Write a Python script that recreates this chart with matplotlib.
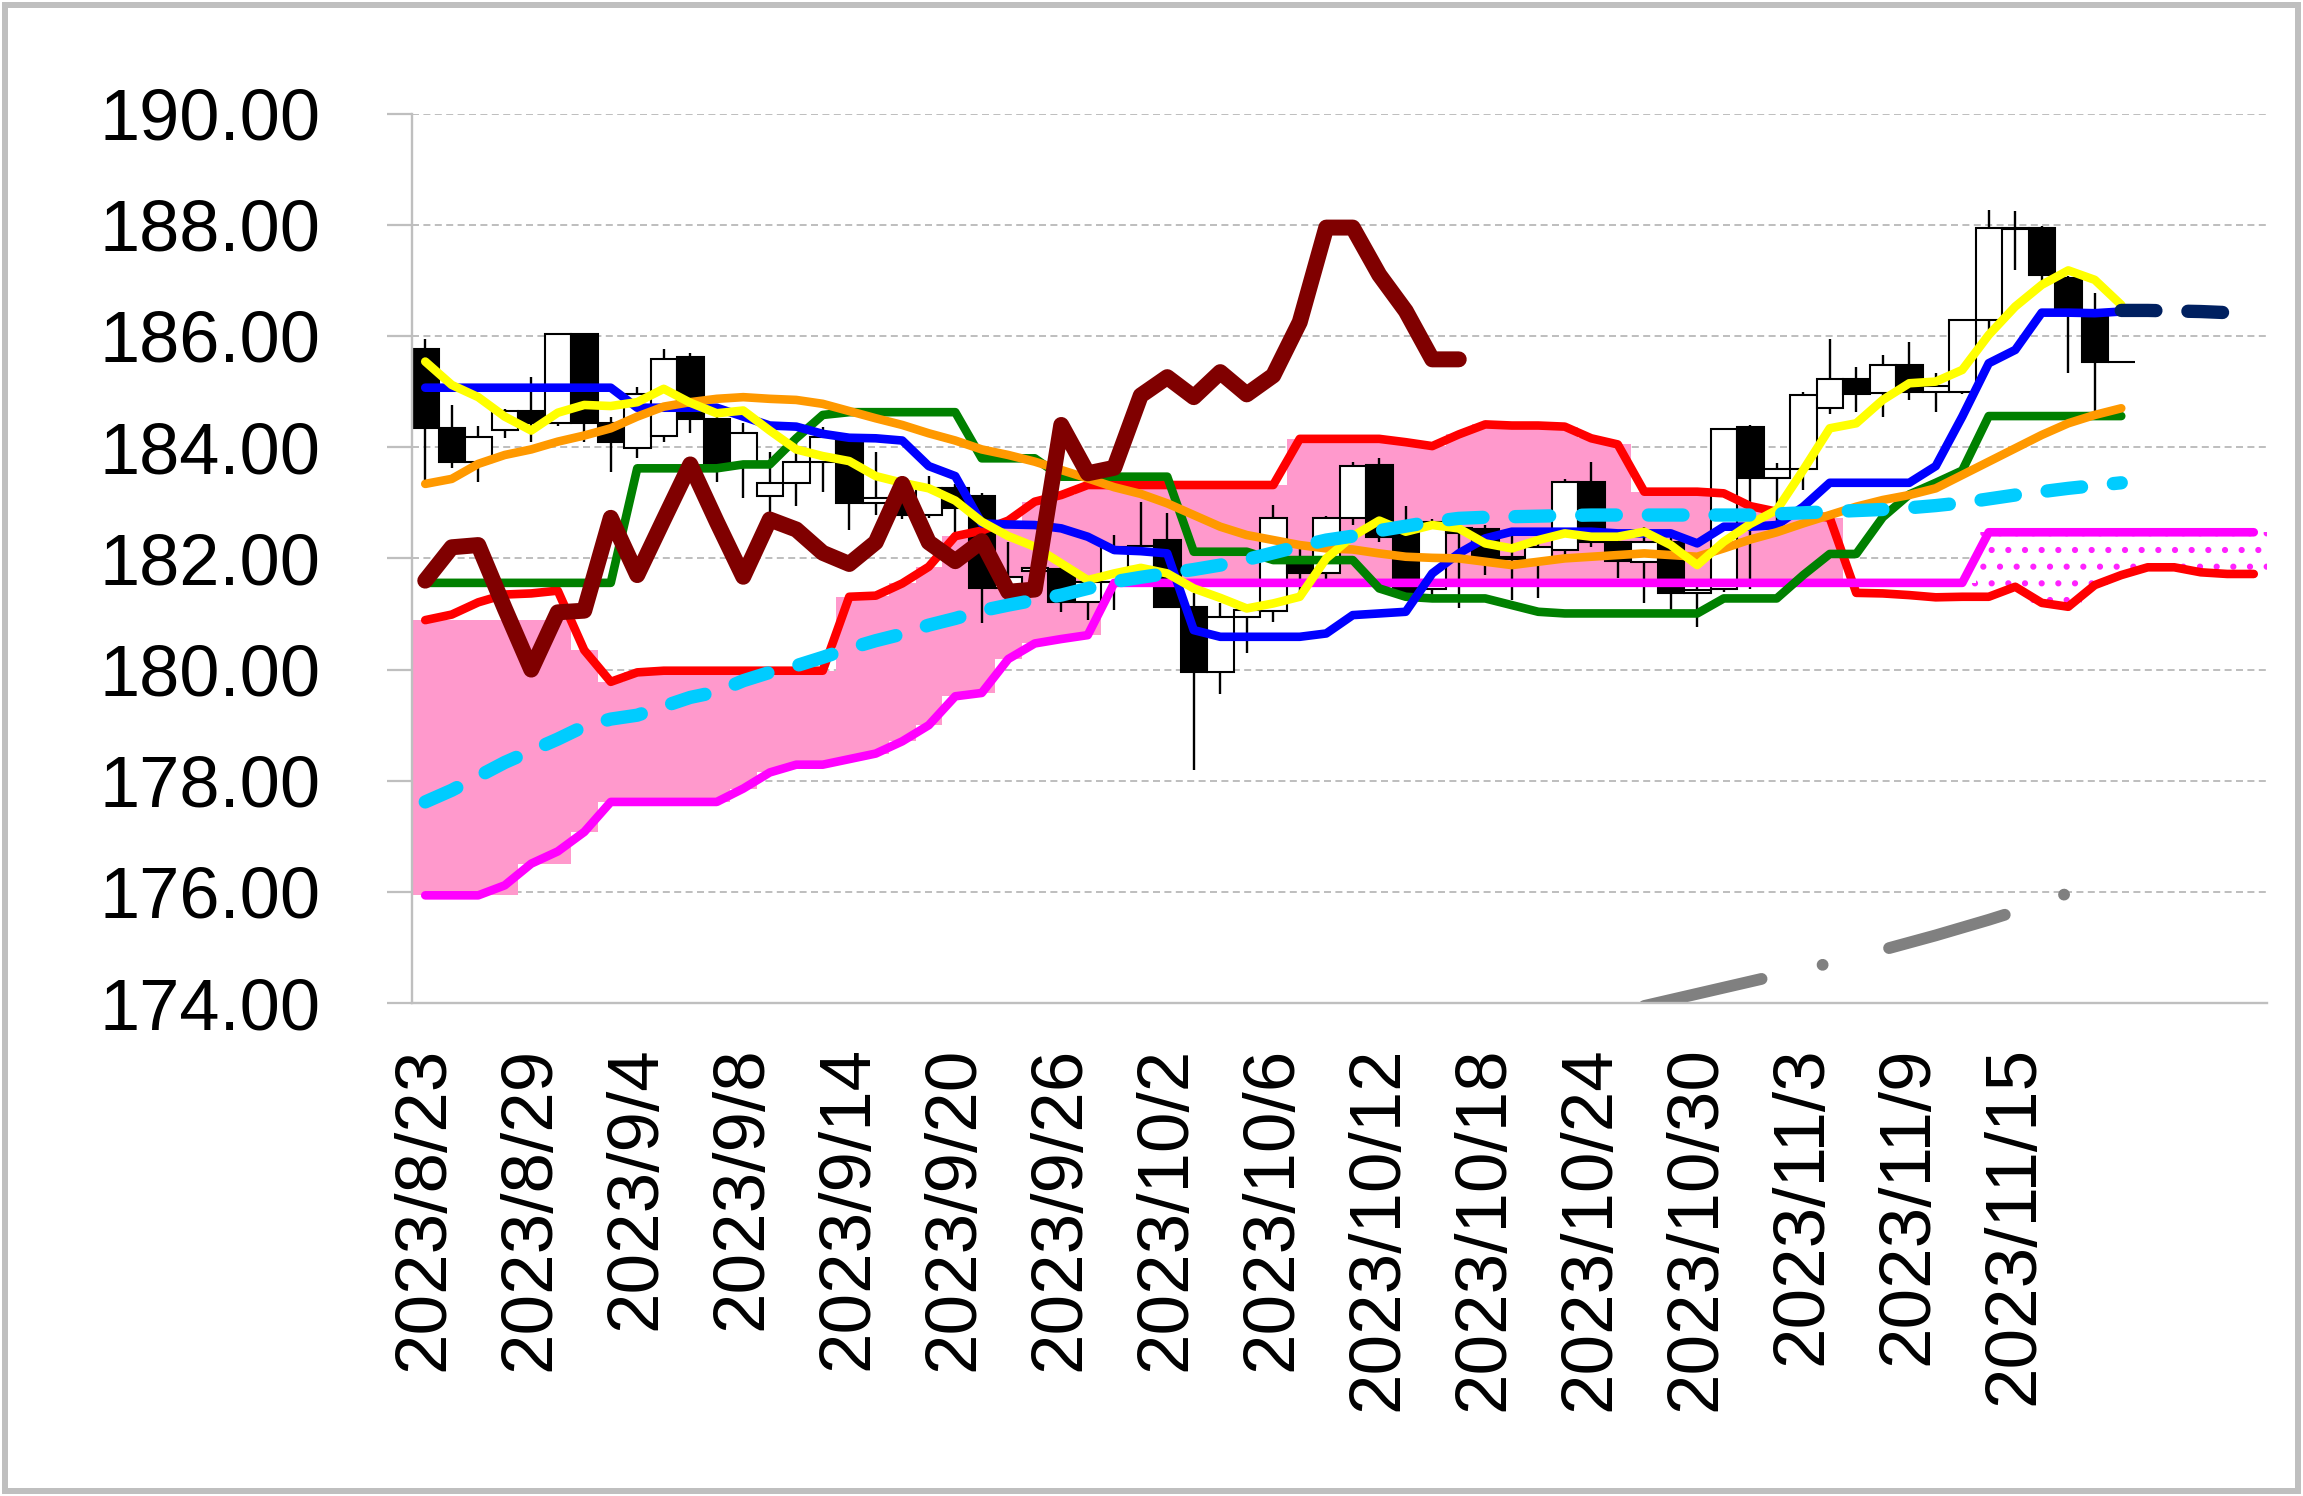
import numpy as np
import matplotlib
matplotlib.use("Agg")
import matplotlib.pyplot as plt
from matplotlib.patches import Rectangle
from matplotlib.ticker import FuncFormatter

plt.rcParams['font.family'] = ['Liberation Sans', 'DejaVu Sans']
plt.rcParams['hatch.linewidth'] = 2.0

N = 70  # categories on the axis (incl. future span)
nan = np.nan

# ---------------- categories ----------------
md = ["8/23", "8/24", "8/25", "8/28", "8/29", "8/30", "8/31", "9/1", "9/4", "9/5",
      "9/6", "9/7", "9/8", "9/11", "9/12", "9/13", "9/14", "9/15", "9/18", "9/19",
      "9/20", "9/21", "9/22", "9/25", "9/26", "9/27", "9/28", "9/29", "10/2", "10/3",
      "10/4", "10/5", "10/6", "10/9", "10/10", "10/11", "10/12", "10/13", "10/16", "10/17",
      "10/18", "10/19", "10/20", "10/23", "10/24", "10/25", "10/26", "10/27", "10/30", "10/31",
      "11/1", "11/2", "11/3", "11/6", "11/7", "11/8", "11/9", "11/10", "11/13", "11/14",
      "11/15", "11/16", "11/17", "11/20"]
categories = ["2023/" + d for d in md] + [""] * (N - len(md))

# ---------------- candles (index 0..64) ----------------
opens = [185.76, 184.34, 183.73, 184.31, 184.66, 184.44, 186.04, 184.44, 183.99, 184.20,
         185.62, 184.50, 183.70, 183.13, 183.36, 183.73, 184.12, 183.00, 183.02, 182.78,
         183.26, 183.12, 181.46, 181.78, 181.81, 181.22, 181.57, 181.85, 182.33, 181.13,
         179.96, 180.95, 181.06, 181.88, 181.73, 182.72, 183.68, 182.45, 181.45, 182.55,
         182.52, 181.99, 181.97, 182.16, 183.38, 182.30, 181.94, 182.30, 181.37, 181.45,
         184.37, 183.44, 183.60, 184.70, 185.23, 184.97, 185.47, 185.00, 185.00, 186.29,
         187.94, 187.95, 187.05, 186.38, 185.54]
highs = [185.94, 184.76, 184.39, 184.69, 185.26, 186.04, 186.06, 184.55, 185.08, 185.76,
         185.69, 184.60, 184.44, 183.91, 184.19, 184.37, 184.19, 183.92, 183.20, 183.48,
         183.33, 183.17, 182.30, 181.90, 181.85, 181.67, 182.42, 183.02, 182.81, 181.37,
         181.19, 181.10, 182.96, 182.30, 182.77, 183.73, 183.80, 182.94, 182.70, 182.55,
         182.60, 182.51, 182.36, 183.42, 183.74, 182.35, 182.57, 182.51, 181.50, 184.35,
         184.40, 183.71, 185.00, 185.94, 185.45, 185.66, 185.89, 185.33, 186.29, 188.27,
         188.24, 187.98, 187.08, 186.77, 185.54]
lows = [183.38, 183.62, 183.38, 184.17, 184.09, 184.39, 184.09, 183.55, 183.80, 184.09,
        184.26, 183.38, 183.09, 182.81, 182.95, 183.20, 182.51, 182.78, 182.70, 182.72,
        182.45, 180.83, 181.25, 181.60, 181.04, 180.89, 181.07, 181.70, 181.10, 178.20,
        179.57, 180.29, 180.85, 181.40, 181.60, 182.60, 182.30, 181.30, 181.34, 181.10,
        181.70, 181.25, 181.28, 182.00, 182.20, 181.64, 181.19, 181.07, 180.77, 181.40,
        181.45, 182.63, 183.23, 184.60, 184.64, 184.55, 184.85, 184.64, 184.96, 186.10,
        187.19, 186.98, 185.33, 184.64, 185.54]
closes = [184.34, 183.73, 184.19, 184.66, 184.44, 186.04, 184.44, 184.09, 184.96, 185.59,
          184.51, 183.70, 184.26, 183.36, 183.73, 184.19, 183.00, 183.08, 182.78, 183.26,
          182.90, 181.46, 181.66, 181.83, 181.21, 181.58, 182.20, 182.23, 181.12, 179.96,
          180.95, 181.07, 182.73, 181.73, 182.72, 183.66, 182.38, 181.37, 182.66, 182.45,
          181.99, 182.03, 182.20, 183.38, 182.30, 181.96, 182.30, 181.37, 181.43, 184.33,
          183.44, 183.60, 184.93, 185.23, 184.96, 185.47, 185.00, 185.10, 186.29, 187.94,
          187.92, 187.10, 186.50, 185.54, 185.54]

# ---------------- indicator lines ----------------
tenkan = [185.07, 185.07, 185.07, 185.07, 185.07, 185.07, 185.07, 185.07, 184.71, 184.71,
          184.71, 184.71, 184.55, 184.39, 184.37, 184.24, 184.17, 184.16, 184.12, 183.66,
          183.48, 182.63, 182.61, 182.60, 182.54, 182.39, 182.15, 182.13, 182.09, 180.71,
          180.59, 180.59, 180.59, 180.59, 180.65, 180.98, 181.01, 181.04, 181.73, 182.09,
          182.36, 182.48, 182.48, 182.48, 182.48, 182.45, 182.45, 182.45, 182.27, 182.57,
          182.57, 182.60, 182.93, 183.36, 183.36, 183.36, 183.36, 183.66, 184.55, 185.51,
          185.75, 186.42, 186.42, 186.41, 186.44]
kijun = [181.56, 181.56, 181.56, 181.56, 181.56, 181.56, 181.56, 181.56, 183.62, 183.62,
         183.62, 183.62, 183.69, 183.69, 184.16, 184.58, 184.63, 184.63, 184.63, 184.63,
         184.63, 183.80, 183.80, 183.80, 183.47, 183.47, 183.47, 183.47, 183.47, 182.12,
         182.12, 182.12, 181.97, 181.97, 181.97, 181.97, 181.46, 181.31, 181.28, 181.28,
         181.28, 181.16, 181.04, 181.01, 181.01, 181.01, 181.01, 181.01, 181.01, 181.28,
         181.28, 181.28, 181.70, 182.08, 182.08, 182.74, 183.15, 183.36, 183.58, 184.56,
         184.56, 184.56, 184.56, 184.56, 184.56]
ma5 = [185.54, 185.12, 184.90, 184.55, 184.30, 184.62, 184.76, 184.74, 184.81, 185.05,
       184.80, 184.61, 184.66, 184.30, 183.96, 183.84, 183.75, 183.48, 183.36, 183.26,
       183.04, 182.66, 182.40, 182.21, 181.91, 181.61, 181.73, 181.83, 181.73, 181.46,
       181.29, 181.10, 181.19, 181.31, 182.00, 182.40, 182.68, 182.48, 182.60, 182.54,
       182.27, 182.18, 182.33, 182.45, 182.39, 182.39, 182.48, 182.24, 181.88, 182.30,
       182.62, 182.87, 183.59, 184.34, 184.43, 184.85, 185.15, 185.18, 185.39, 186.02,
       186.53, 186.92, 187.18, 187.01, 186.56]
ma25 = [183.34, 183.43, 183.70, 183.86, 183.96, 184.10, 184.21, 184.34, 184.55, 184.73,
        184.81, 184.87, 184.90, 184.87, 184.85, 184.78, 184.65, 184.52, 184.40, 184.25,
        184.12, 183.96, 183.86, 183.74, 183.59, 183.44, 183.28, 183.16, 182.99, 182.78,
        182.57, 182.42, 182.33, 182.24, 182.18, 182.16, 182.09, 182.03, 182.01, 182.00,
        181.94, 181.88, 181.94, 182.00, 182.03, 182.06, 182.09, 182.06, 182.03, 182.18,
        182.34, 182.47, 182.63, 182.78, 182.93, 183.05, 183.14, 183.26, 183.50, 183.74,
        183.98, 184.22, 184.43, 184.58, 184.70]
ma75 = [177.62, 177.83, 178.08, 178.33, 178.54, 178.75, 178.98, 179.11, 179.18, 179.34,
        179.50, 179.60, 179.80, 179.95, 180.07, 180.22, 180.38, 180.52, 180.64, 180.80,
        180.92, 181.06, 181.16, 181.25, 181.34, 181.46, 181.58, 181.66, 181.73, 181.80,
        181.88, 181.98, 182.10, 182.22, 182.33, 182.40, 182.50, 182.58, 182.66, 182.72,
        182.74, 182.75, 182.76, 182.77, 182.78, 182.78, 182.78, 182.78, 182.78, 182.78,
        182.78, 182.80, 182.82, 182.84, 182.86, 182.88, 182.91, 182.95, 183.00, 183.07,
        183.14, 183.20, 183.26, 183.31, 183.36]
ma200_start = 46
ma200 = [173.95, 174.06, 174.17, 174.28, 174.39, 174.50, 174.61, 174.72, 174.84, 174.96,
         175.09, 175.22, 175.36, 175.50, 175.65, 175.81, 175.98]
chikou = [181.60, 182.20, 182.24, 181.10, 180.00, 181.03, 181.06, 182.73, 181.70, 182.70,
          183.69, 182.66, 181.67, 182.70, 182.52, 182.10, 181.90, 182.29, 183.34, 182.29,
          181.95, 182.31, 181.40, 181.44, 184.40, 183.53, 183.63, 184.93, 185.26, 184.90,
          185.35, 184.95, 185.29, 186.25, 187.95, 187.95, 187.10, 186.45, 185.58, 185.58]
tenkan_ext_start = 64
tenkan_ext = [186.46, 186.46, 186.45, 186.44, 186.42]
senkou_a = [180.89, 180.99, 181.21, 181.35, 181.37, 181.42, 180.35, 179.78, 179.95, 179.98,
            179.98, 179.98, 179.98, 179.98, 179.98, 179.98, 181.31, 181.33, 181.55, 181.85,
            182.40, 182.50, 182.68, 183.02, 183.14, 183.32, 183.32, 183.32, 183.32, 183.32,
            183.32, 183.32, 183.32, 184.15, 184.15, 184.15, 184.15, 184.09, 184.02, 184.23,
            184.41, 184.39, 184.39, 184.37, 184.16, 184.05, 183.20, 183.20, 183.20, 183.17,
            182.94, 182.84, 182.80, 182.73, 181.38, 181.37, 181.34, 181.30, 181.31, 181.31,
            181.49, 181.20, 181.13, 181.52, 181.70, 181.84, 181.84, 181.75, 181.72, 181.72]
senkou_b = [175.94, 175.94, 175.94, 176.12, 176.51, 176.73, 177.08, 177.62, 177.62, 177.62,
            177.62, 177.62, 177.86, 178.15, 178.29, 178.29, 178.39, 178.49, 178.71, 179.00,
            179.52, 179.58, 180.19, 180.47, 180.55, 180.62, 181.56, 181.56, 181.56, 181.56,
            181.56, 181.56, 181.56, 181.56, 181.56, 181.56, 181.56, 181.56, 181.56, 181.56,
            181.56, 181.56, 181.56, 181.56, 181.56, 181.56, 181.56, 181.56, 181.56, 181.56,
            181.56, 181.56, 181.56, 181.56, 181.56, 181.56, 181.56, 181.56, 181.56, 182.47,
            182.47, 182.47, 182.47, 182.47, 182.47, 182.47, 182.47, 182.47, 182.47, 182.47]
# the shaded cloud lags the span lines over the first few days
cloud_top_head = [180.89, 180.89, 180.89, 180.89, 180.89, 180.89]
cloud_bottom_head = [175.94, 175.94, 175.94, 175.94, 176.51, 176.51]


def pad(values, start=0):
    arr = np.full(N, nan)
    arr[start:start + len(values)] = values
    return arr


# ---------------- figure ----------------
W, H = 2303, 1496
fig = plt.figure(figsize=(W / 100, H / 100), dpi=100)
ax = fig.add_axes([412 / W, 1 - 1003.2 / H, (2267 - 412) / W, (1003.2 - 113.6) / H])

x_all = np.arange(N)

# cloud
sa = np.array(senkou_a, dtype=float)
sb = np.array(senkou_b, dtype=float)
cloud_hi = np.maximum(sa, sb)
cloud_lo = np.minimum(sa, sb)
cloud_hi[:len(cloud_top_head)] = cloud_top_head
cloud_lo[:len(cloud_bottom_head)] = cloud_bottom_head
pink = sa >= sb
ax.bar(x_all[pink], (cloud_hi - cloud_lo)[pink], bottom=cloud_lo[pink], width=1.0,
       color='#FF99CC', linewidth=0, zorder=1)
ax.bar(x_all[~pink], (cloud_hi - cloud_lo)[~pink], bottom=cloud_lo[~pink], width=1.0,
       facecolor='white', edgecolor='#FF22FF', hatch='.', linewidth=0, zorder=1)

# candles
o = np.array(opens); h = np.array(highs); l = np.array(lows); c = np.array(closes)
xc = np.arange(len(o))
ax.vlines(xc, l, h, color='black', linewidth=1.7, zorder=2)
up = c >= o
ax.bar(xc, np.abs(c - o), bottom=np.minimum(o, c), width=1.0,
       color=np.where(up, 'white', 'black'), edgecolor='black', linewidth=1.5, zorder=3)

rk = dict(solid_joinstyle='round', solid_capstyle='round')
LW = 6.2
ax.plot(x_all, pad(senkou_a), color='#FF0000', lw=LW, zorder=4, **rk)
ax.plot(x_all, pad(senkou_b), color='#FF00FF', lw=LW, zorder=4, **rk)
ax.plot(x_all, pad(kijun), color='#008000', lw=LW, zorder=5, **rk)
ax.plot(x_all, pad(tenkan), color='#0000FF', lw=LW, zorder=5, **rk)
ax.plot(x_all, pad(ma25), color='#FF9900', lw=LW, zorder=5, **rk)
ax.plot(x_all, pad(ma5), color='#FFFF00', lw=LW, zorder=5, **rk)
ax.plot(x_all, pad(chikou), color='#800000', lw=11.5, zorder=6, **rk)
ax.plot(x_all, pad(ma75), color='#00CCFF', lw=9.6, zorder=7,
        linestyle=(0, (2.6, 2.4)), dash_capstyle='round', dash_joinstyle='round')
ax.plot(x_all, pad(tenkan_ext, tenkan_ext_start), color='#002060', lw=9.6, zorder=7,
        linestyle=(0, (2.6, 2.4)), dash_capstyle='round', dash_joinstyle='round')
ax.plot(x_all, pad(ma200, ma200_start), color='#808080', lw=8.5, zorder=7,
        linestyle=(0, (10.2, 5.3, 0.01, 5.8)), dash_capstyle='round')

# axes styling
ax.set_xlim(-0.5, N - 0.5)
ax.set_ylim(174, 190)
ax.set_yticks(np.arange(174, 191, 2))
ax.yaxis.set_major_formatter(FuncFormatter(lambda v, p: f"{v:.2f}"))
tick_idx = list(range(0, N, 4))
ax.set_xticks(tick_idx)
ax.set_xticklabels([categories[i] for i in tick_idx])

ax.set_axisbelow(True)
ax.yaxis.grid(True, color='#BFBFBF', linestyle=(0, (3.5, 2.2)), linewidth=1.44, zorder=0)
ax.xaxis.grid(False)
for s in ['top', 'right']:
    ax.spines[s].set_visible(False)
for s in ['left', 'bottom']:
    ax.spines[s].set_color('#BFBFBF')
    ax.spines[s].set_linewidth(1.7)
    ax.spines[s].set_zorder(8)

ax.tick_params(axis='y', direction='out', length=18, width=1.6, color='#BFBFBF',
               pad=48, labelsize=52, labelcolor='black')
ax.tick_params(axis='x', length=0, pad=31, labelsize=52.5, labelrotation=90,
               labelcolor='black')

# chart border
fig.patches.append(Rectangle((5 / W, 5 / H), (W - 10) / W, (H - 10) / H,
                             transform=fig.transFigure, fill=False,
                             edgecolor='#BFBFBF', linewidth=4.3))

fig.savefig("out.png", dpi=100, facecolor='white')
